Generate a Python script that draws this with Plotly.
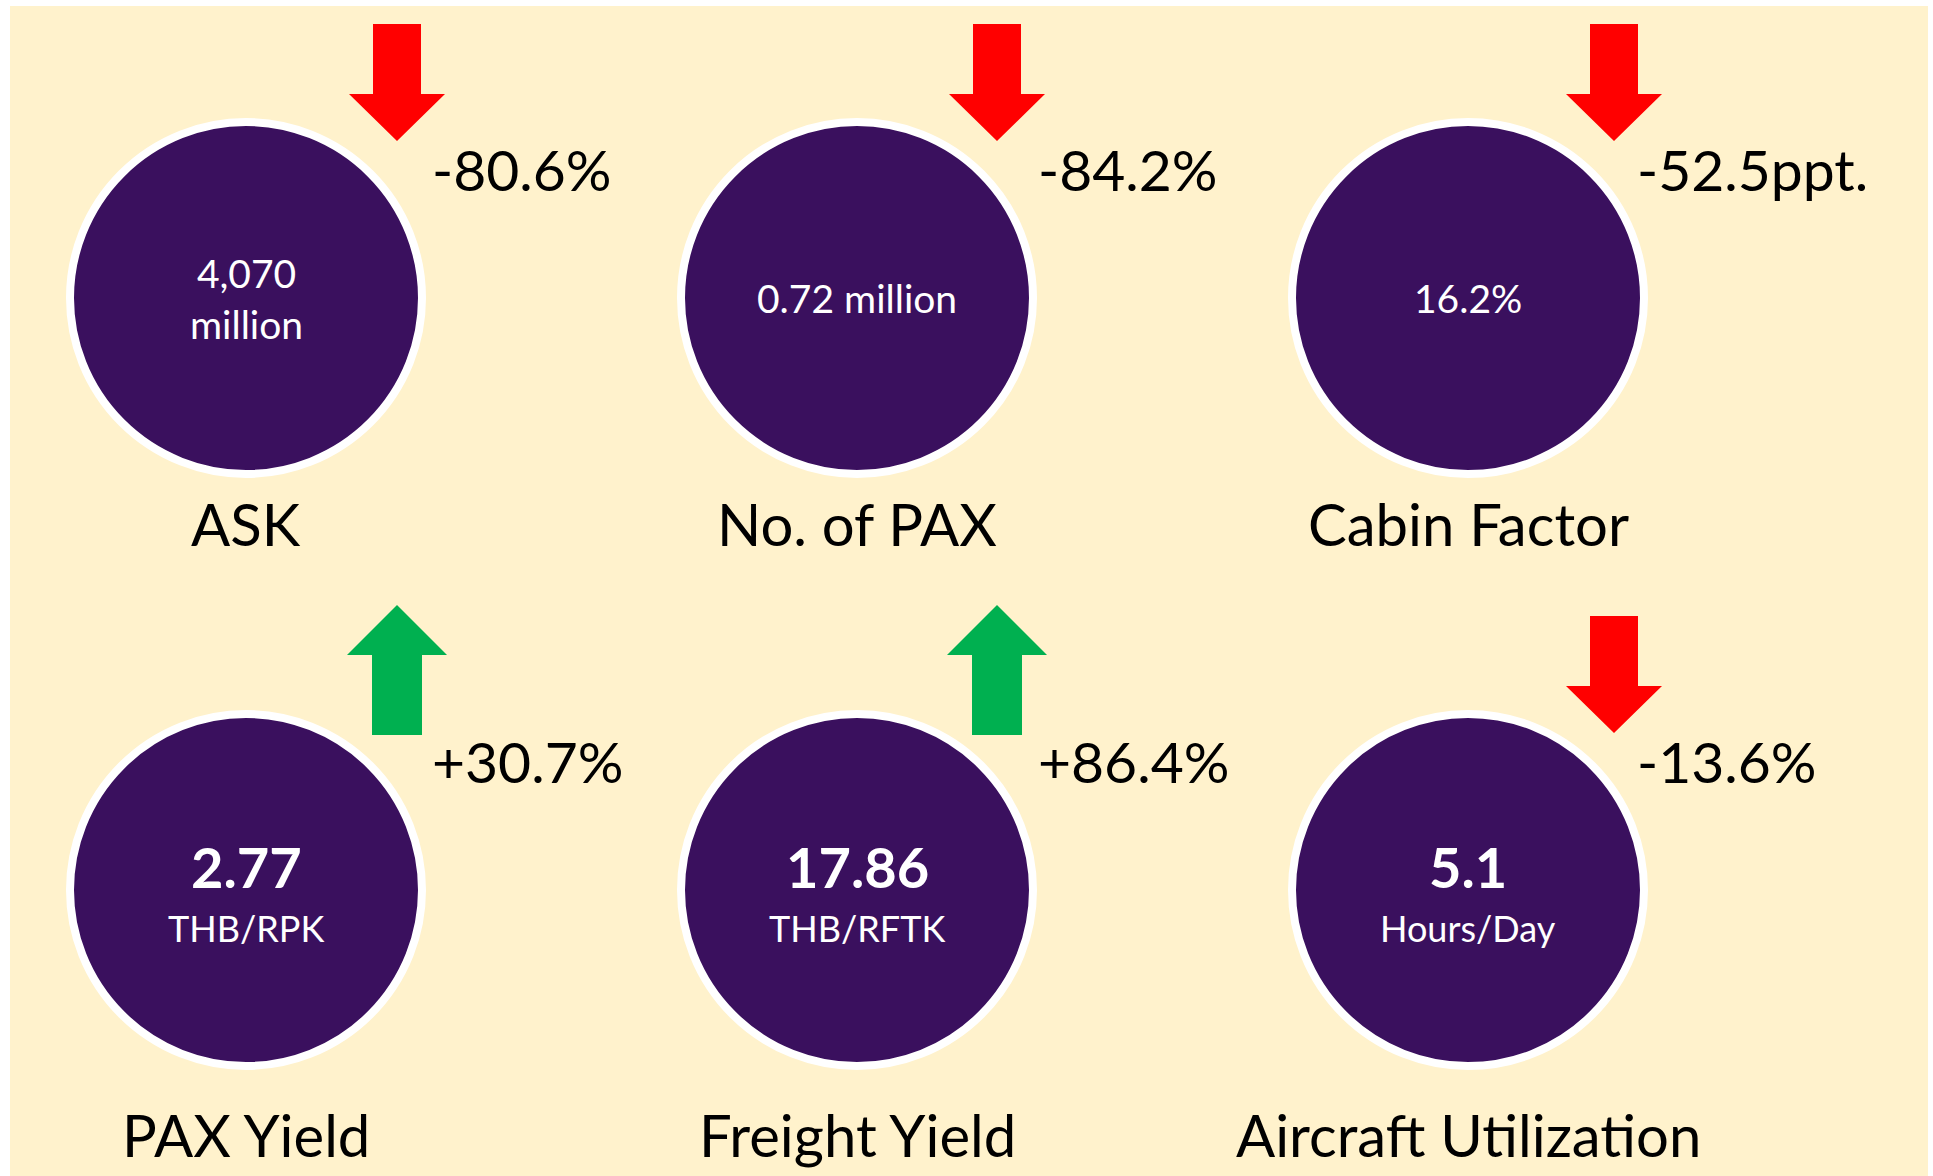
import plotly.graph_objects as go

# KPI data
METRICS = ["ASK", "No. of PAX", "Cabin Factor", "PAX Yield", "Freight Yield", "Aircraft Utilization"]
VALUE_TEXT = ["4,070<br>million", "0.72 million", "16.2%", "2.77", "17.86", "5.1"]
UNIT_TEXT = ["", "", "", "THB/RPK", "THB/RFTK", "Hours/Day"]
CHANGES = [-80.6, -84.2, -52.5, 30.7, 86.4, -13.6]
CHANGE_UNITS = ["%", "%", "ppt.", "%", "%", "%"]

# styling / layout
W, H = 1933, 1176
CREAM = '#FFF2CC'
PURPLE = '#3A105E'
RED = '#FF0000'
GREEN = '#00B050'
FONT = 'Lato'

COL_X = [246, 857, 1468]
ROW_Y = [298, 890]
ARROW_X = [397, 997, 1614]
CHANGE_X = [430, 1036, 1635]
LABEL_Y = [523, 1134]


def arrow_poly(x, cy, up):
    if up:
        tip, neck, end = cy - 285, cy - 235, cy - 155
        hw, sw = 50, 25
        xs = [x, x + hw, x + sw, x + sw, x - sw, x - sw, x - hw, x]
        ys = [tip, neck, neck, end, end, neck, neck, tip]
    else:
        top, neck, tip = cy - 274, cy - 204, cy - 157
        hw, sw = 48, 24
        xs = [x - sw, x + sw, x + sw, x + hw, x, x - hw, x - sw, x - sw]
        ys = [top, top, neck, neck, tip, neck, neck, top]
    return xs, ys


fig = go.Figure()
annotations = []

cx_all = [COL_X[i % 3] for i in range(6)]
cy_all = [ROW_Y[i // 3] for i in range(6)]

fig.add_trace(go.Scatter(
    x=cx_all, y=cy_all, mode='markers',
    marker=dict(size=352, color=PURPLE, line=dict(color='white', width=8)),
    hoverinfo='skip', showlegend=False,
))

for i, name in enumerate(METRICS):
    col, row = i % 3, i // 3
    cx, cy = cx_all[i], cy_all[i]
    ch = CHANGES[i]
    xs, ys = arrow_poly(ARROW_X[col], cy, ch > 0)
    fig.add_trace(go.Scatter(
        x=xs, y=ys, mode='lines', fill='toself',
        fillcolor=GREEN if ch > 0 else RED, line=dict(width=0),
        hoverinfo='skip', showlegend=False,
    ))

    annotations.append(dict(
        x=CHANGE_X[col], y=cy - 129, text=f"{ch:+.1f}{CHANGE_UNITS[i]}",
        xanchor='left', yanchor='middle', showarrow=False,
        font=dict(family=FONT, size=57, color='black'),
    ))
    annotations.append(dict(
        x=cx, y=LABEL_Y[row], text=name,
        xanchor='center', yanchor='middle', showarrow=False,
        font=dict(family=FONT, size=58, color='black'),
    ))
    if UNIT_TEXT[i]:
        annotations.append(dict(
            x=cx, y=cy - 24, text=f"<b>{VALUE_TEXT[i]}</b>",
            xanchor='center', yanchor='middle', showarrow=False,
            font=dict(family=FONT, size=56, color='white'),
        ))
        annotations.append(dict(
            x=cx, y=cy + 38, text=UNIT_TEXT[i],
            xanchor='center', yanchor='middle', showarrow=False,
            font=dict(family=FONT, size=36, color='white'),
        ))
    else:
        annotations.append(dict(
            x=cx, y=cy, text=VALUE_TEXT[i],
            xanchor='center', yanchor='middle', showarrow=False,
            font=dict(family=FONT, size=39, color='white'),
        ))

fig.update_layout(
    width=W, height=H,
    paper_bgcolor='white', plot_bgcolor=CREAM,
    margin=dict(l=10, r=5, t=6, b=0),
    xaxis=dict(range=[10, 1928], visible=False, fixedrange=True),
    yaxis=dict(range=[1176, 6], visible=False, fixedrange=True),
    annotations=annotations,
    showlegend=False,
)

fig.write_html("out.html", config={'displayModeBar': False},
               post_script="document.body.style.margin='0';")
